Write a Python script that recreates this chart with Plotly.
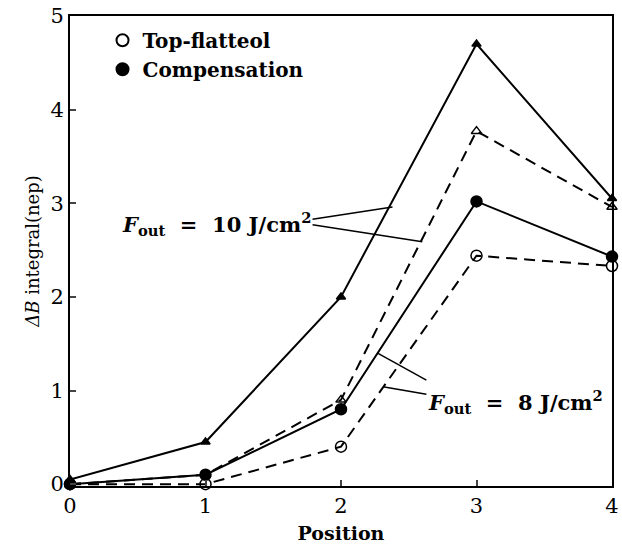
import plotly.graph_objects as go

positions = [0, 1, 2, 3, 4]
comp_10 = [0.05, 0.45, 2.0, 4.7, 3.05]
flat_10 = [0.0, 0.1, 0.9, 3.77, 2.96]
comp_8 = [0.0, 0.1, 0.8, 3.02, 2.43]
flat_8 = [0.0, 0.0, 0.4, 2.44, 2.33]

legend_names = ["Top-flatteol", "Compensation"]
x_ticks = [0, 1, 2, 3, 4]
y_ticks = [0, 1, 2, 3, 4, 5]

FONT = "DejaVu Serif"
fig = go.Figure()

series = [
    (comp_10, "solid", "triangle-up", 8),
    (flat_10, "dash", "triangle-up-open", 9),
    (comp_8, "solid", "circle", 11),
    (flat_8, "dash", "circle-open", 11),
]
for ys, dash, sym, sz in series:
    fig.add_trace(go.Scatter(
        x=positions, y=ys, mode="lines+markers",
        line=dict(color="black", width=2, dash=dash if dash == "solid" else "11px,7px"),
        marker=dict(symbol=sym, size=sz, color="black", line=dict(color="black", width=1.5)),
        showlegend=False, cliponaxis=False,
    ))

for name, sym in zip(legend_names, ["circle-open", "circle"]):
    fig.add_trace(go.Scatter(
        x=[None], y=[None], mode="markers", name=name,
        marker=dict(symbol=sym, size=11, color="black", line=dict(color="black", width=2)),
    ))

# leader lines (data coords)
leaders = [
    ((1.79, 2.83), (2.38, 2.96)),
    ((1.79, 2.77), (2.60, 2.59)),
    ((2.63, 1.11), (2.27, 1.40)),
    ((2.63, 0.96), (2.31, 1.04)),
]
for (x0, y0), (x1, y1) in leaders:
    fig.add_shape(type="line", x0=x0, y0=y0, x1=x1, y1=y1, xref="x", yref="y",
                  line=dict(color="black", width=1.5))

fig.add_annotation(x=1.79, y=2.78, xref="x", yref="y", xanchor="right", yanchor="middle",
                   text="<b><i>F</i><sub>out</sub>&nbsp;&nbsp;=&nbsp;&nbsp;10 J/cm<sup>2</sup></b>",
                   showarrow=False, font=dict(family=FONT, size=21, color="black"))
fig.add_annotation(x=2.63, y=0.88, xref="x", yref="y", xanchor="left", yanchor="middle",
                   text="<b><i>F</i><sub>out</sub>&nbsp;&nbsp;=&nbsp;&nbsp;8 J/cm<sup>2</sup></b>",
                   showarrow=False, font=dict(family=FONT, size=21, color="black"))

fig.update_layout(
    width=622, height=544,
    margin=dict(l=70, r=10, t=16, b=58),
    paper_bgcolor="white", plot_bgcolor="white",
    font=dict(family=FONT, color="black"),
    legend=dict(x=0.06, y=0.99, xanchor="left", yanchor="top",
                bgcolor="rgba(0,0,0,0)",
                font=dict(family=FONT, size=20, color="black", weight="bold"),
                itemsizing="constant", tracegroupgap=0),
    xaxis=dict(range=[0, 4], tickvals=x_ticks, ticks="inside", ticklen=6, tickwidth=2,
               showline=True, linecolor="black", linewidth=2, mirror=True,
               showgrid=False, zeroline=False, ticklabeloverflow="allow", automargin=False,
               tickfont=dict(family=FONT, size=21, color="black"),
               title=dict(text="<b>Position</b>", font=dict(family=FONT, size=19), standoff=14)),
    yaxis=dict(range=[-0.02, 5], tickvals=y_ticks, ticks="inside", ticklen=6, tickwidth=2,
               showline=True, linecolor="black", linewidth=2, mirror=True,
               showgrid=False, zeroline=False, ticklabeloverflow="allow", automargin=False,
               tickfont=dict(family=FONT, size=21, color="black"),
               title=dict(text="<i>ΔB</i> integral(nep)", font=dict(family=FONT, size=18), standoff=6)),
)

fig.write_html("out.html", config={"displayModeBar": False},
               post_script="document.body.style.margin='0';document.body.style.overflow='hidden';")
